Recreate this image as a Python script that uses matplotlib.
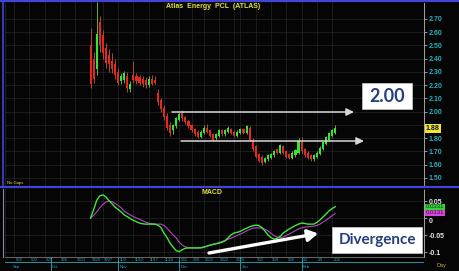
import matplotlib
matplotlib.use('Agg')
import matplotlib.pyplot as plt
from matplotlib.patches import Rectangle, FancyArrowPatch
from matplotlib.lines import Line2D
import numpy as np
import pandas as pd

W, H = 459, 271

title = 'Atlas  Energy  PCL  (ATLAS)'

# daily OHLC, first candle on 2014-10-20
first_date = '2014-10-20'
last_date = '2015-02-17'
holidays = ['2014-10-23', '2014-12-05', '2014-12-10', '2014-12-31',
            '2015-01-01', '2015-01-02']

opens = [2.50, 2.40, 2.32, 2.68, 2.58, 2.48, 2.43, 2.38, 2.36, 2.30,
         2.23, 2.24, 2.27, 2.17, 2.28, 2.27, 2.26, 2.25, 2.24, 2.20,
         2.25, 2.24, 2.14, 2.09, 2.03, 1.97, 1.90, 1.86, 1.89, 1.94,
         1.99, 1.96, 1.93, 1.90, 1.87, 1.85, 1.81, 1.84, 1.88, 1.86,
         1.83, 1.80, 1.82, 1.86, 1.83, 1.85, 1.87, 1.85, 1.82, 1.84,
         1.87, 1.84, 1.88, 1.79, 1.74, 1.68, 1.66, 1.62, 1.64, 1.65,
         1.67, 1.72, 1.69, 1.74, 1.70, 1.68, 1.65, 1.67, 1.69, 1.77,
         1.72, 1.69, 1.67, 1.64, 1.66, 1.68, 1.72, 1.76, 1.79, 1.82,
         1.84]
highs = [2.63, 2.45, 2.83, 2.72, 2.62, 2.52, 2.47, 2.44, 2.40, 2.33,
         2.29, 2.31, 2.30, 2.23, 2.38, 2.29, 2.28, 2.27, 2.26, 2.27,
         2.28, 2.27, 2.17, 2.10, 2.05, 1.99, 1.92, 1.91, 1.96, 2.00,
         2.01, 1.97, 1.94, 1.91, 1.88, 1.86, 1.86, 1.90, 1.91, 1.87,
         1.84, 1.84, 1.87, 1.87, 1.87, 1.89, 1.88, 1.86, 1.86, 1.88,
         1.88, 1.90, 1.89, 1.80, 1.75, 1.69, 1.67, 1.66, 1.68, 1.69,
         1.71, 1.73, 1.76, 1.75, 1.71, 1.69, 1.70, 1.72, 1.80, 1.81,
         1.73, 1.70, 1.68, 1.68, 1.70, 1.74, 1.78, 1.82, 1.85, 1.87,
         1.90]
lows = [2.18, 2.22, 2.28, 2.45, 2.40, 2.33, 2.30, 2.29, 2.25, 2.20,
        2.21, 2.22, 2.15, 2.15, 2.22, 2.21, 2.20, 2.19, 2.18, 2.19,
        2.20, 2.21, 2.05, 2.00, 1.94, 1.86, 1.82, 1.83, 1.88, 1.93,
        1.93, 1.91, 1.88, 1.85, 1.82, 1.80, 1.80, 1.83, 1.84, 1.81,
        1.78, 1.79, 1.81, 1.82, 1.82, 1.84, 1.83, 1.81, 1.81, 1.83,
        1.83, 1.83, 1.78, 1.70, 1.65, 1.62, 1.60, 1.61, 1.63, 1.64,
        1.66, 1.68, 1.68, 1.68, 1.65, 1.64, 1.64, 1.66, 1.68, 1.69,
        1.66, 1.64, 1.63, 1.63, 1.65, 1.67, 1.71, 1.75, 1.78, 1.81,
        1.83]
closes = [2.21, 2.25, 2.59, 2.50, 2.44, 2.37, 2.36, 2.32, 2.28, 2.22,
          2.27, 2.29, 2.18, 2.21, 2.24, 2.23, 2.22, 2.21, 2.20, 2.25,
          2.21, 2.22, 2.07, 2.02, 1.96, 1.88, 1.84, 1.90, 1.95, 1.98,
          1.95, 1.92, 1.89, 1.86, 1.83, 1.81, 1.85, 1.88, 1.85, 1.82,
          1.79, 1.83, 1.86, 1.83, 1.86, 1.88, 1.84, 1.82, 1.85, 1.87,
          1.84, 1.89, 1.79, 1.72, 1.66, 1.63, 1.61, 1.65, 1.67, 1.68,
          1.70, 1.69, 1.75, 1.69, 1.66, 1.65, 1.69, 1.71, 1.78, 1.70,
          1.67, 1.65, 1.64, 1.67, 1.69, 1.73, 1.77, 1.81, 1.84, 1.86,
          1.88]

macd_line = [0.000, 0.025, 0.052, 0.065, 0.068, 0.062, 0.051, 0.042, 0.032, 0.025,
             0.018, 0.009, 0.004, -0.002, -0.007, -0.011, -0.015, -0.017, -0.018, -0.018,
             -0.018, -0.018, -0.021, -0.028, -0.045, -0.058, -0.074, -0.086, -0.096, -0.099,
             -0.093, -0.089, -0.088, -0.088, -0.088, -0.088, -0.088, -0.086, -0.083, -0.080,
             -0.078, -0.076, -0.074, -0.071, -0.067, -0.058, -0.049, -0.044, -0.042, -0.039,
             -0.034, -0.030, -0.026, -0.023, -0.021, -0.022, -0.028, -0.038, -0.050, -0.058,
             -0.062, -0.060, -0.054, -0.044, -0.038, -0.032, -0.027, -0.022, -0.018, -0.015,
             -0.016, -0.018, -0.018, -0.018, -0.013, -0.006, 0.003, 0.012, 0.021, 0.028,
             0.0331]
signal_line = [0.000, 0.008, 0.018, 0.030, 0.040, 0.047, 0.050, 0.048, 0.043, 0.037,
               0.030, 0.020, 0.014, 0.009, 0.004, 0.000, -0.004, -0.008, -0.012, -0.015,
               -0.017, -0.018, -0.018, -0.018, -0.022, -0.030, -0.040, -0.050, -0.059, -0.072,
               -0.080, -0.085, -0.087, -0.088, -0.088, -0.088, -0.087, -0.085, -0.083, -0.080,
               -0.077, -0.075, -0.072, -0.069, -0.066, -0.062, -0.059, -0.055, -0.051, -0.047,
               -0.043, -0.038, -0.034, -0.030, -0.029, -0.029, -0.030, -0.033, -0.038, -0.045,
               -0.052, -0.056, -0.058, -0.056, -0.051, -0.047, -0.042, -0.037, -0.032, -0.029,
               -0.027, -0.026, -0.025, -0.024, -0.022, -0.018, -0.012, -0.006, 0.000, 0.007,
               0.0131]

price_ticks = [1.50, 1.60, 1.70, 1.80, 1.90, 2.00, 2.10, 2.20, 2.30, 2.40, 2.50, 2.60, 2.70]
macd_ticks = [0.05, 0.0, -0.05, -0.1]
macd_tick_labels = ['0.05', '0', '-0.05', '-0.1']

BG = '#050505'
BLUE = '#4343d6'
TEAL = '#2aaebe'
YELLOW = '#e6e03a'
RED = '#e8281e'
GREEN = '#30e830'
FONT = 'Liberation Sans'


def px_x(x):
    return x / W


def px_y(y):
    return 1 - y / H


# trading calendar (category positions)
days = pd.bdate_range('2014-09-10', last_date)
days = days[~days.isin(pd.to_datetime(holidays))]
first = list(days).index(pd.Timestamp(first_date))
slots = np.arange(len(days)) - first

n = len(closes)
xs = np.arange(n)
step = 3.1  # pixels per trading day
xlim = (-(86 - 5) / step, (424 - 86) / step)

fig = plt.figure(figsize=(W / 100, H / 100), dpi=100, facecolor=BG)

ax = fig.add_axes([px_x(5), px_y(187), px_x(424 - 5), (187 - 2) / H], facecolor=BG)
axm = fig.add_axes([px_x(5), px_y(257), px_x(424 - 5), (257 - 189) / H], facecolor=BG, sharex=ax)
axd = fig.add_axes([px_x(5), 0, px_x(424 - 5), (271 - 257) / H], facecolor=BG, sharex=ax)

# candles
o = np.array(opens)
c = np.array(closes)
up = c >= o
body_col = np.where(up, GREEN, RED)
wick_col = np.where(up, '#78a83a', '#a8502e')
ax.vlines(xs, lows, highs, colors=wick_col, lw=0.7, zorder=2)
ax.bar(xs, np.maximum(np.abs(c - o), 0.004), bottom=np.minimum(o, c), width=0.68,
       color=body_col, lw=0, zorder=3)

ax.set_xlim(*xlim)
ax.set_ylim(1.432, 2.828)
ax.set_yticks(price_ticks)
# the 1.90 label sits under the last-price tag
ax.set_yticklabels(['' if abs(t - closes[-1]) < 0.05 else f'{t:.2f}' for t in price_ticks])

# macd
axm.plot(xs, signal_line, color='#b048c0', lw=0.8, zorder=3)
axm.plot(xs, macd_line, color='#3ee83e', lw=1.0, zorder=4)
axm.set_ylim(-0.1147, 0.0853)
axm.set_yticks(macd_ticks)
axm.set_yticklabels(macd_tick_labels)

week_pos = [s for i, s in enumerate(slots) if i == 0 or days[i].weekday() < days[i - 1].weekday()]
month_pos = [s for i, s in enumerate(slots) if i > 0 and days[i].month != days[i - 1].month]

for a in (ax, axm):
    a.yaxis.tick_right()
    a.tick_params(axis='y', length=2, width=0.5, color='#cccccc', pad=1.5)
    a.tick_params(axis='x', bottom=False, labelbottom=False)
    a.set_xticks(week_pos)
    a.grid(True, color='#262626', lw=0.5)
    a.set_axisbelow(True)
    for side in ('top', 'bottom', 'left'):
        a.spines[side].set_visible(False)
    a.spines['right'].set_color('#bbbbbb')
    a.spines['right'].set_linestyle((0, (1, 1)))
    a.spines['right'].set_linewidth(0.6)

for lab in ax.get_yticklabels():
    lab.set_fontfamily(FONT)
    lab.set_fontsize(5)
    lab.set_fontweight('bold')
    lab.set_color(TEAL)
for lab in axm.get_yticklabels():
    lab.set_fontfamily(FONT)
    lab.set_fontsize(5)
    lab.set_fontweight('bold')
    lab.set_color('#e8e8e8')
    if lab.get_text() == '0':
        lab.set_verticalalignment('top')

# date strip
axd.set_ylim(0, 1)
axd.axis('off')
axd.axhline(0.62, color=TEAL, lw=0.6)
axd.axhline(0.98, color='#7a7a7a', lw=0.6)
for s in month_pos:
    axd.axvline(s, color=TEAL, lw=0.6)
last_lab = -99
for i, s in enumerate(slots):
    if s in week_pos and s >= xlim[0] and s - last_lab >= 4:
        axd.text(s + 0.4, 0.8, f'{days[i].month}/{days[i].day}', color=TEAL,
                 fontsize=2.6, family=FONT, ha='left', va='center')
        last_lab = s
    if (s in month_pos or i == 2) and s >= xlim[0]:
        axd.text(s + 0.4, 0.28, days[i].strftime('%b'), color=TEAL,
                 fontsize=3, family=FONT, ha='left', va='center')

# frame lines
for y in (1, 187):
    fig.add_artist(Line2D([0, 1], [px_y(y), px_y(y)], color=BLUE, lw=1.6))
fig.add_artist(Line2D([px_x(2.5), px_x(2.5)], [px_y(1), px_y(187)], color=BLUE, lw=1.2))
fig.add_artist(Line2D([px_x(2.5), px_x(2.5)], [px_y(189), px_y(257)], color='#8a8aa8', lw=0.8))

# labels
fig.text(px_x(213), px_y(7), title, color=YELLOW, fontsize=5, fontweight='bold',
         family=FONT, ha='center', va='center')
fig.text(px_x(212), px_y(192), 'MACD', color=YELLOW, fontsize=5, fontweight='bold',
         family=FONT, ha='center', va='center')
fig.text(px_x(7), px_y(183), 'No Gaps', color=YELLOW, fontsize=3, family=FONT,
         ha='left', va='center')
fig.text(px_x(441), px_y(265), 'Day', color='#c8b030', fontsize=4, family=FONT,
         ha='center', va='center')

# current value tags
fig.text(px_x(426), px_y(128.5), f'{closes[-1]:.2f}', color='#111111', fontsize=5,
         fontweight='bold', family=FONT, ha='left', va='center', zorder=10,
         bbox=dict(boxstyle='square,pad=0.15', fc='#f0e830', ec='none'))
fig.text(px_x(426), px_y(207), f'{macd_line[-1]:.4f}', color='#0c3a0c', fontsize=4.3,
         family=FONT, ha='left', va='center', zorder=10,
         bbox=dict(boxstyle='square,pad=0.1', fc='#38d038', ec='none'))
fig.text(px_x(426), px_y(213), f'{signal_line[-1]:.4f}', color='#3a0a3a', fontsize=4.3,
         family=FONT, ha='left', va='center', zorder=10,
         bbox=dict(boxstyle='square,pad=0.1', fc='#d848d8', ec='none'))

# support / resistance arrows
for x0, x1, y in ((172, 354, 112), (181, 364, 141)):
    fig.add_artist(FancyArrowPatch(
        (px_x(x0), px_y(y)), (px_x(x1), px_y(y)), transform=fig.transFigure,
        arrowstyle='-|>,head_length=0.45,head_width=0.22', mutation_scale=10,
        color='#d8d8d8', lw=1.1, shrinkA=0, shrinkB=0))

# divergence arrow
fig.add_artist(FancyArrowPatch(
    (px_x(209), px_y(253)), (px_x(318), px_y(233.5)), transform=fig.transFigure,
    arrowstyle='-|>,head_length=0.6,head_width=0.35', mutation_scale=10,
    color='white', lw=2.4, shrinkA=0, shrinkB=0))

# callout boxes
for (x0, y0, x1, y1), txt, fs in (((362, 83, 412, 109), '2.00', 13),
                                   ((332, 227, 422, 253), 'Divergence', 11)):
    fig.add_artist(Rectangle((px_x(x0), px_y(y1)), px_x(x1 - x0), (y1 - y0) / H,
                             transform=fig.transFigure, fc='white', ec='#cccccc', lw=0.5))
    fig.text(px_x((x0 + x1) / 2), px_y((y0 + y1) / 2), txt, color='#24407a', fontsize=fs,
             fontweight='bold', family='Lato', ha='center', va='center')

fig.savefig('out.png', dpi=100, facecolor=BG)
